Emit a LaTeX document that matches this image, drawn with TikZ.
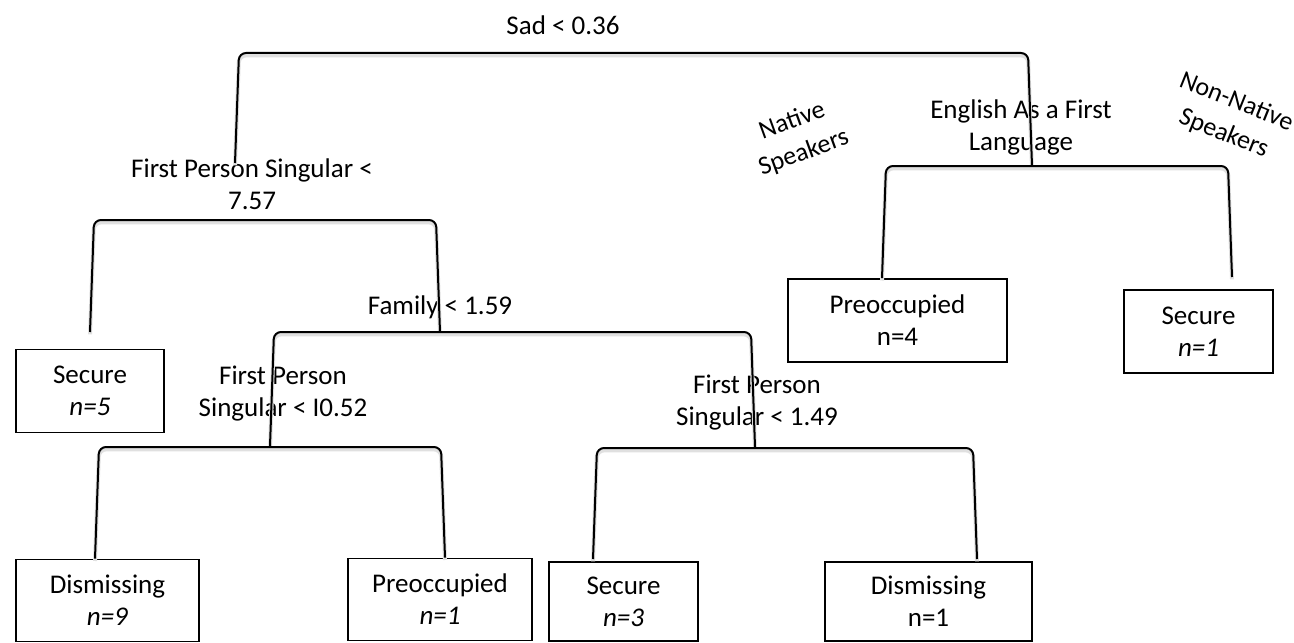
\documentclass[tikz,border=0pt]{standalone}
\usepackage{fontspec}
\setmainfont{Carlito}
\usetikzlibrary{calc}
\def\fork(#1)(#2)(#3){\draw[fork] (#1) -- ($(#1 |- 0,#3)+(4,0)$) -- ($(#2 |- 0,#3)+(-4,0)$) -- (#2);}

\begin{document}
\begin{tikzpicture}[x=0.5pt, y=-0.5pt,
		every node/.style={font=\fontsize{13.5}{16}\selectfont, align=center, inner sep=0pt},
		leaf/.style={draw, line width=0.9pt, minimum height=41.5pt},
		side/.style={font=\fontsize{13}{17}\selectfont},
		fork/.style={line width=1pt, rounded corners=3.5pt,
			preaction={draw=black!12, line width=2pt, transform canvas={yshift=-1.2pt}}}]
			%%%%% START %%%%%
			\useasboundingbox (0,0) rectangle (1294,642);
			
			% splits
			\node (sad) at (563, 25) {Sad < 0.36};
			\node (fpsA) at (252, 184) {First Person Singular <\\7.57};
			\node (fam) at (440, 307) {Family < 1.59};
			\node (fpsB) at (283, 394) {First Person\\Singular < I0.52};
			\node (fpsC) at (757, 403) {First Person\\Singular < 1.49};
			\node (eng) at (1021, 127) {English As a First\\Language};
			
			\node[side, rotate=20] (native) at (798, 137) {Native\\Speakers};
			\node[side, rotate=-22] (nonnative) at (1230, 118) {Non-Native\\Speakers};
			
			% leaves
			\node[leaf, minimum width=74pt] (secA) at (90, 391) {Secure\\\textit{n=5}};
			\node[leaf, minimum width=91.5pt, minimum height=41pt] (disA) at (107.5, 600.5) {Dismissing\\\textit{n=9}};
			\node[leaf, minimum width=92pt, minimum height=41pt] (preA) at (440, 599.5) {Preoccupied\\\textit{n=1}};
			\node[leaf, minimum width=74.5pt, minimum height=39.5pt] (secB) at (623.5, 601.5) {Secure\\\textit{n=3}};
			\node[leaf, minimum width=103.5pt, minimum height=39.5pt] (disB) at (928.5, 601.5) {Dismissing\\n=1};
			\node[leaf, minimum width=109.5pt] (preB) at (897.5, 320.5) {Preoccupied\\n=4};
			\node[leaf, minimum width=74.5pt] (secC) at (1198.5, 331.5) {Secure\\\textit{n=1}};
			
			% leg ends
			\coordinate (sad-l) at (235, 163);
			\coordinate (sad-r) at (1032, 166);
			\coordinate (fpsA-l) at (90, 332);
			\coordinate (fpsA-r) at (440, 332);
			\coordinate (fam-l) at (270, 446);
			\coordinate (fam-r) at (755, 447);
			\coordinate (fpsB-l) at (disA.north -| 95,0);
			\coordinate (fpsB-r) at (preA.north -| 445,0);
			\coordinate (fpsC-l) at (593, 559);
			\coordinate (fpsC-r) at (977, 559);
			\coordinate (eng-l) at (preB.north -| 882,0);
			\coordinate (eng-r) at (1232, 277);
			
			\fork(sad-l)(sad-r)(53)
			\fork(fpsA-l)(fpsA-r)(220)
			\fork(fam-l)(fam-r)(332)
			\fork(fpsB-l)(fpsB-r)(447)
			\fork(fpsC-l)(fpsC-r)(448)
			\fork(eng-l)(eng-r)(166)
			
			%%%%% END %%%%%
		\end{tikzpicture}
\end{document}
